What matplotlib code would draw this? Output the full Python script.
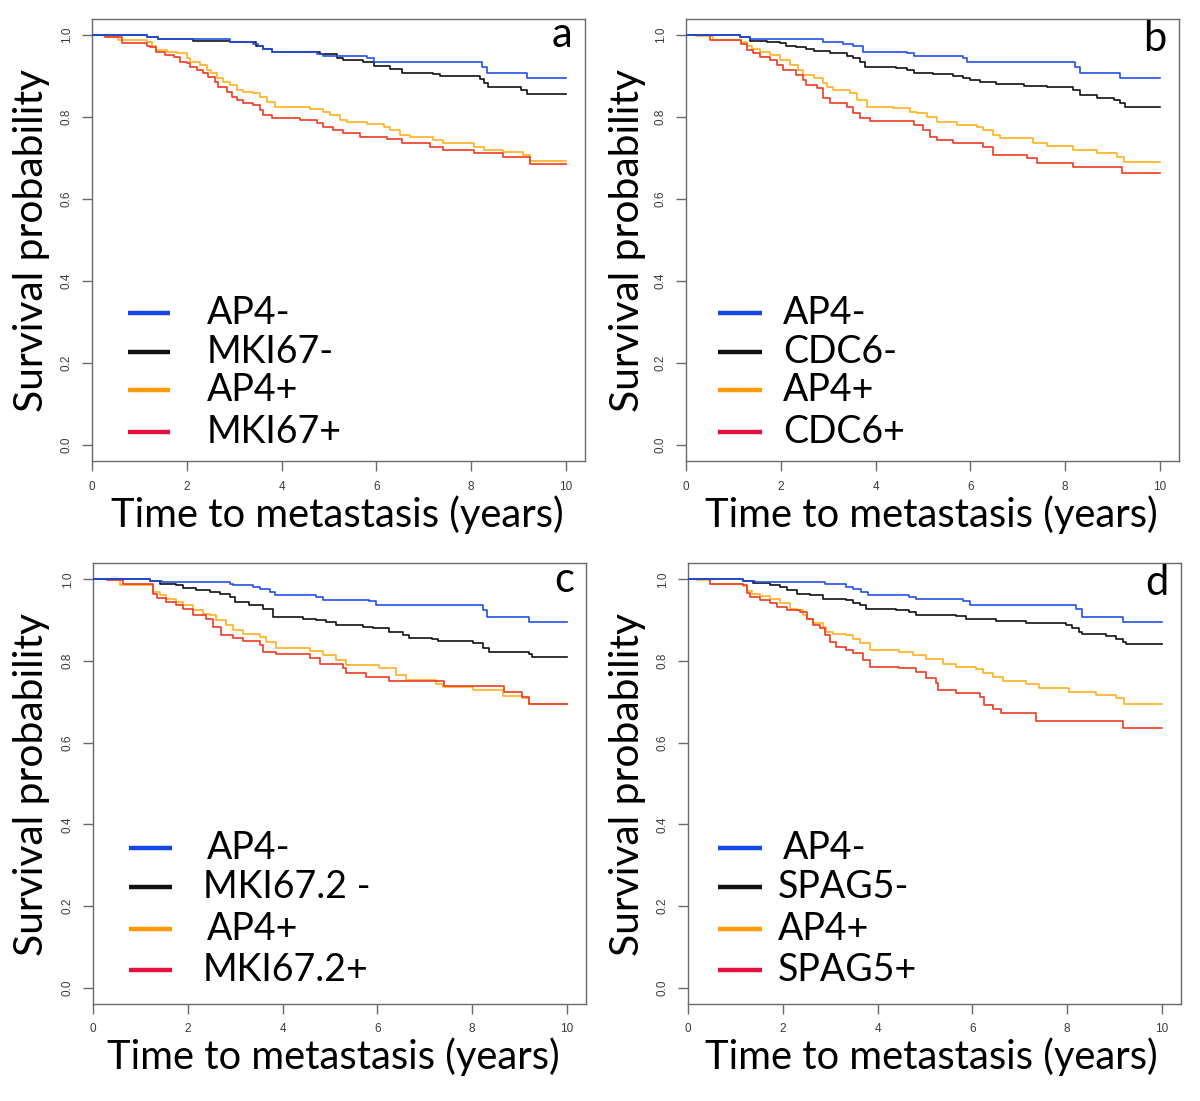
import matplotlib
matplotlib.use("Agg")
import matplotlib.pyplot as plt

# ---------------- data (time in years, survival probability after each step) -------------
# Panel a
A_AP4NEG_T = [1.15, 1.40, 2.91, 3.40, 3.51, 3.61, 3.79, 4.74, 4.88, 5.80, 5.94, 8.22, 8.33, 9.17]
A_AP4NEG_S = [0.996, 0.990, 0.984, 0.978, 0.972, 0.966, 0.958, 0.953, 0.949, 0.945, 0.935, 0.923, 0.908, 0.894]
A_MKINEG_T = [1.15, 1.40, 2.14, 2.91, 3.47, 3.61, 3.79, 4.81, 5.16, 5.30, 5.72, 5.94, 6.29, 6.53, 7.20, 7.34,
              8.19, 8.26, 8.36, 9.06, 9.17]
A_MKINEG_S = [0.996, 0.990, 0.986, 0.984, 0.972, 0.965, 0.958, 0.953, 0.945, 0.939, 0.933, 0.924, 0.916, 0.908,
              0.904, 0.900, 0.892, 0.882, 0.874, 0.866, 0.856]
A_AP4POS_T = [0.27, 0.55, 1.15, 1.26, 1.36, 1.58, 1.79, 2.00, 2.07, 2.28, 2.42, 2.52, 2.63, 2.77, 2.91, 3.05,
              3.19, 3.40, 3.54, 3.69, 3.86, 4.32, 4.60, 4.88, 5.02, 5.23, 5.37, 5.80, 6.15, 6.29, 6.50, 6.71,
              7.20, 7.41, 8.05, 8.26, 8.68, 9.10, 9.24]
A_AP4POS_S = [0.996, 0.988, 0.982, 0.972, 0.963, 0.959, 0.955, 0.943, 0.935, 0.927, 0.915, 0.907, 0.894, 0.886,
              0.878, 0.866, 0.862, 0.858, 0.850, 0.837, 0.825, 0.824, 0.819, 0.813, 0.805, 0.793, 0.789, 0.782,
              0.776, 0.768, 0.756, 0.752, 0.744, 0.736, 0.728, 0.720, 0.715, 0.707, 0.692]
A_MKIPOS_T = [0.27, 0.63, 1.15, 1.22, 1.36, 1.54, 1.72, 1.86, 2.00, 2.07, 2.21, 2.35, 2.45, 2.59, 2.66, 2.84,
              2.95, 3.05, 3.19, 3.40, 3.54, 3.61, 3.79, 4.39, 4.74, 4.88, 5.09, 5.30, 5.65, 6.22, 6.53, 7.13,
              7.41, 8.05, 8.68, 9.24]
A_MKIPOS_S = [0.996, 0.981, 0.974, 0.970, 0.959, 0.951, 0.947, 0.935, 0.931, 0.923, 0.915, 0.907, 0.898, 0.886,
              0.874, 0.862, 0.850, 0.841, 0.833, 0.829, 0.817, 0.805, 0.797, 0.793, 0.785, 0.776, 0.768, 0.760,
              0.752, 0.746, 0.736, 0.728, 0.720, 0.713, 0.703, 0.685]

# Panel b
B_AP4NEG_T = [1.14, 1.35, 2.90, 3.32, 3.53, 3.74, 4.66, 4.80, 5.85, 5.92, 8.21, 8.31, 9.16]
B_AP4NEG_S = [0.996, 0.990, 0.984, 0.978, 0.972, 0.959, 0.955, 0.949, 0.943, 0.935, 0.923, 0.908, 0.894]
B_CDCNEG_T = [1.14, 1.35, 1.70, 1.98, 2.12, 2.33, 2.54, 2.69, 3.04, 3.39, 3.53, 3.67, 3.78, 4.44, 4.66, 4.80,
              5.22, 5.64, 5.85, 5.99, 6.20, 6.55, 7.12, 7.61, 8.17, 8.31, 8.66, 9.02, 9.16, 9.26]
B_CDCNEG_S = [0.994, 0.986, 0.984, 0.980, 0.973, 0.970, 0.967, 0.962, 0.955, 0.949, 0.943, 0.933, 0.923, 0.919,
              0.915, 0.908, 0.905, 0.900, 0.894, 0.890, 0.885, 0.880, 0.876, 0.874, 0.866, 0.854, 0.847, 0.841,
              0.833, 0.825]
B_AP4POS_T = [0.22, 0.58, 1.17, 1.28, 1.39, 1.56, 1.77, 1.98, 2.19, 2.37, 2.47, 2.69, 2.90, 2.97, 3.11, 3.46,
              3.60, 3.81, 4.37, 4.72, 4.87, 5.08, 5.29, 5.71, 6.13, 6.27, 6.48, 6.62, 7.33, 7.61, 8.17, 8.66,
              9.09, 9.23]
B_AP4POS_S = [0.998, 0.989, 0.984, 0.972, 0.965, 0.959, 0.951, 0.939, 0.927, 0.915, 0.902, 0.894, 0.882, 0.874,
              0.866, 0.858, 0.841, 0.825, 0.821, 0.813, 0.809, 0.801, 0.789, 0.780, 0.776, 0.768, 0.756, 0.748,
              0.736, 0.729, 0.720, 0.711, 0.703, 0.691]
B_CDCPOS_T = [0.51, 1.17, 1.28, 1.42, 1.56, 1.77, 1.91, 2.05, 2.33, 2.47, 2.54, 2.76, 2.90, 3.04, 3.39, 3.53,
              3.67, 3.88, 4.80, 5.01, 5.15, 5.29, 5.64, 6.27, 6.48, 7.19, 7.40, 8.17, 9.19]
B_CDCPOS_S = [0.989, 0.978, 0.963, 0.955, 0.947, 0.939, 0.927, 0.915, 0.902, 0.890, 0.878, 0.870, 0.846, 0.833,
              0.825, 0.809, 0.797, 0.791, 0.780, 0.768, 0.752, 0.744, 0.736, 0.728, 0.707, 0.699, 0.687, 0.679,
              0.663]

# Panel c
C_AP4NEG_T = [1.20, 1.45, 2.88, 2.95, 3.38, 3.52, 3.73, 3.83, 4.71, 4.85, 5.83, 5.97, 8.22, 8.32, 9.20]
C_AP4NEG_S = [0.997, 0.993, 0.989, 0.985, 0.981, 0.977, 0.969, 0.961, 0.957, 0.950, 0.946, 0.937, 0.924, 0.908,
              0.896]
C_MKINEG_T = [1.20, 1.41, 1.76, 1.90, 2.18, 2.46, 2.67, 2.88, 2.99, 3.30, 3.59, 3.80, 4.43, 4.71, 4.92, 5.13,
              5.69, 5.90, 6.25, 6.53, 6.67, 7.16, 7.27, 8.01, 8.22, 8.36, 9.20, 9.27]
C_MKINEG_S = [0.995, 0.989, 0.985, 0.979, 0.973, 0.969, 0.963, 0.957, 0.945, 0.938, 0.928, 0.908, 0.904, 0.900,
              0.896, 0.889, 0.884, 0.880, 0.872, 0.863, 0.857, 0.854, 0.849, 0.843, 0.831, 0.821, 0.816, 0.811]
C_AP4POS_T = [0.29, 0.57, 1.27, 1.41, 1.55, 1.76, 1.90, 2.11, 2.32, 2.46, 2.60, 2.81, 2.95, 3.17, 3.52, 3.66,
              3.87, 4.57, 4.85, 5.13, 5.34, 6.04, 6.39, 6.60, 7.24, 7.38, 8.01, 8.64, 9.06, 9.20]
C_AP4POS_S = [0.998, 0.987, 0.969, 0.961, 0.953, 0.945, 0.937, 0.924, 0.916, 0.912, 0.900, 0.888, 0.876, 0.867,
              0.859, 0.847, 0.831, 0.824, 0.815, 0.802, 0.790, 0.782, 0.766, 0.754, 0.743, 0.737, 0.729, 0.715,
              0.709, 0.694]
C_MKIPOS_T = [0.29, 0.64, 1.27, 1.34, 1.55, 1.76, 1.90, 2.11, 2.39, 2.53, 2.71, 2.95, 3.17, 3.52, 3.59, 3.87,
              4.57, 4.78, 5.27, 5.34, 5.76, 6.25, 7.41, 8.67, 9.06, 9.20]
C_MKIPOS_S = [0.998, 0.989, 0.965, 0.955, 0.945, 0.937, 0.928, 0.912, 0.904, 0.884, 0.863, 0.857, 0.849, 0.839,
              0.823, 0.816, 0.808, 0.792, 0.782, 0.770, 0.762, 0.751, 0.740, 0.725, 0.713, 0.694]

# Panel d
D_AP4NEG_T = [1.17, 1.41, 2.89, 3.34, 3.48, 3.66, 3.80, 4.67, 4.81, 5.80, 5.94, 8.18, 8.32, 9.17]
D_AP4NEG_S = [0.996, 0.993, 0.988, 0.981, 0.976, 0.969, 0.961, 0.957, 0.951, 0.946, 0.937, 0.928, 0.908, 0.896]
D_SPGNEG_T = [1.17, 1.38, 1.73, 1.94, 2.08, 2.29, 2.57, 2.85, 3.34, 3.48, 3.62, 3.76, 4.39, 4.67, 4.81, 5.66,
              5.87, 6.50, 7.13, 7.97, 8.11, 8.25, 8.32, 8.81, 9.03, 9.17, 9.24]
D_SPGNEG_S = [0.995, 0.992, 0.987, 0.981, 0.973, 0.965, 0.961, 0.953, 0.949, 0.942, 0.937, 0.927, 0.924, 0.920,
              0.912, 0.911, 0.902, 0.898, 0.894, 0.889, 0.880, 0.872, 0.865, 0.862, 0.855, 0.847, 0.841]
D_AP4POS_T = [0.18, 0.46, 1.17, 1.24, 1.34, 1.52, 1.73, 1.94, 2.15, 2.29, 2.43, 2.50, 2.64, 2.85, 2.92, 3.06,
              3.34, 3.48, 3.62, 3.83, 4.46, 4.74, 5.03, 5.38, 5.66, 6.08, 6.22, 6.43, 6.64, 7.13, 7.41, 8.04,
              8.60, 9.03, 9.20]
D_AP4POS_S = [0.998, 0.989, 0.984, 0.971, 0.965, 0.959, 0.953, 0.941, 0.928, 0.924, 0.912, 0.904, 0.892, 0.884,
              0.872, 0.867, 0.863, 0.855, 0.843, 0.827, 0.821, 0.815, 0.804, 0.792, 0.786, 0.780, 0.770, 0.762,
              0.751, 0.743, 0.735, 0.725, 0.717, 0.709, 0.694]
D_SPGPOS_T = [0.46, 1.17, 1.24, 1.31, 1.52, 1.73, 1.87, 2.08, 2.36, 2.50, 2.64, 2.78, 2.89, 2.99, 3.13, 3.34,
              3.48, 3.69, 3.83, 4.46, 4.81, 5.03, 5.24, 5.27, 5.66, 6.15, 6.25, 6.43, 6.60, 7.34, 9.17]
D_SPGPOS_S = [0.989, 0.985, 0.967, 0.957, 0.949, 0.941, 0.933, 0.924, 0.920, 0.904, 0.888, 0.880, 0.863, 0.847,
              0.835, 0.827, 0.819, 0.802, 0.786, 0.782, 0.774, 0.758, 0.746, 0.729, 0.721, 0.713, 0.693, 0.683,
              0.672, 0.652, 0.636]

LEGEND_A = ["AP4-", "MKI67-", "AP4+", "MKI67+"]
LEGEND_B = ["AP4-", "CDC6-", "AP4+", "CDC6+"]
LEGEND_C = ["AP4-", "MKI67.2 -", "AP4+", "MKI67.2+"]
LEGEND_D = ["AP4-", "SPAG5-", "AP4+", "SPAG5+"]
PANEL_LETTERS = ["a", "b", "c", "d"]
X_TICKS = [0, 2, 4, 6, 8, 10]
Y_TICKS = [0.0, 0.2, 0.4, 0.6, 0.8, 1.0]
X_END = 10.0

# ---------------- style ----------------
CURVE_COLORS = ["#2350e6", "#111111", "#ffb21e", "#f03a24"]
CURVE_Z = [4, 3, 2, 2.5]
LEGEND_COLORS = ["#1246e8", "#111111", "#ff9a00", "#e5103c"]
LABEL_FONT = ["Lato", "DejaVu Sans"]
TICK_FONT = ["Liberation Sans", "DejaVu Sans"]
FRAME = "#6a6a6a"

W, H = 1200, 1101
fig = plt.figure(figsize=(W / 100, H / 100), dpi=100)

# axes rectangles in pixels: left, right, top, bottom
RECTS = [(92, 585, 18.6, 461.4), (686, 1179, 18.6, 461.4),
         (93, 586, 563, 1004), (688, 1181, 563, 1004)]

panels = [
    ([(A_AP4NEG_T, A_AP4NEG_S), (A_MKINEG_T, A_MKINEG_S), (A_AP4POS_T, A_AP4POS_S), (A_MKIPOS_T, A_MKIPOS_S)], LEGEND_A),
    ([(B_AP4NEG_T, B_AP4NEG_S), (B_CDCNEG_T, B_CDCNEG_S), (B_AP4POS_T, B_AP4POS_S), (B_CDCPOS_T, B_CDCPOS_S)], LEGEND_B),
    ([(C_AP4NEG_T, C_AP4NEG_S), (C_MKINEG_T, C_MKINEG_S), (C_AP4POS_T, C_AP4POS_S), (C_MKIPOS_T, C_MKIPOS_S)], LEGEND_C),
    ([(D_AP4NEG_T, D_AP4NEG_S), (D_SPGNEG_T, D_SPGNEG_S), (D_AP4POS_T, D_AP4POS_S), (D_SPGPOS_T, D_SPGPOS_S)], LEGEND_D),
]

# legend layout per panel (axes fraction): line x0, x1, text x list, row y list
LEG_LAYOUT = [
    (0.073, 0.158, [0.233, 0.233, 0.233, 0.233], [0.335, 0.247, 0.161, 0.066]),
    (0.065, 0.154, [0.197, 0.197, 0.197, 0.197], [0.335, 0.247, 0.161, 0.066]),
    (0.073, 0.160, [0.231, 0.223, 0.231, 0.223], [0.354, 0.265, 0.170, 0.077]),
    (0.061, 0.150, [0.193, 0.183, 0.183, 0.183], [0.354, 0.265, 0.170, 0.077]),
]
LETTER_POS = [(0.975, 0.962), (0.975, 0.955), (0.975, 0.962), (0.975, 0.955)]

for i, ((curves, labels), (l, r, t, b)) in enumerate(zip(panels, RECTS)):
    ax = fig.add_axes([l / W, 1 - b / H, (r - l) / W, (b - t) / H])
    for (tt, ss), col, z in zip(curves, CURVE_COLORS, CURVE_Z):
        xs = [0.0] + list(tt) + [X_END]
        ys = [1.0] + list(ss) + [ss[-1]]
        ax.step(xs, ys, where="post", color=col, lw=1.2, zorder=z)
    ax.set_xlim(0, 10.4)
    ax.set_ylim(-0.04, 1.04)
    ax.set_xticks(X_TICKS)
    ax.set_xticklabels([str(v) for v in X_TICKS])
    ax.set_yticks(Y_TICKS)
    ax.set_yticklabels([f"{v:.1f}" for v in Y_TICKS], rotation=90, va="center")
    ax.tick_params(axis="both", direction="out", length=7, width=1, color=FRAME,
                   labelsize=8.5, labelcolor="#3a3a3a", pad=7)
    for lab in ax.get_xticklabels() + ax.get_yticklabels():
        lab.set_fontfamily(TICK_FONT)
    for sp in ax.spines.values():
        sp.set_color(FRAME)
        sp.set_linewidth(1.0)
    # legend
    x0, x1, txs, rows = LEG_LAYOUT[i]
    for lab, col, tx, ry in zip(labels, LEGEND_COLORS, txs, rows):
        ax.plot([x0, x1], [ry, ry], transform=ax.transAxes, color=col, lw=3.2, solid_capstyle="butt")
        ax.text(tx, ry, lab, transform=ax.transAxes, fontsize=27, family=LABEL_FONT,
                va="center", ha="left", color="black")
    lx, ly = LETTER_POS[i]
    ax.text(lx, ly, PANEL_LETTERS[i], transform=ax.transAxes, fontsize=30, family=LABEL_FONT,
            ha="right", va="center", color="black")

# axis titles
XLAB_POS = [(337, 515), (931, 515), (333, 1057), (931, 1057)]
YLAB_POS = [(32, 240), (628, 240), (32, 785), (628, 785)]
for (xp, yp) in XLAB_POS:
    fig.text(xp / W, 1 - yp / H, "Time to metastasis (years)", fontsize=28.7, family=LABEL_FONT,
             ha="center", va="center")
for (xp, yp) in YLAB_POS:
    fig.text(xp / W, 1 - yp / H, "Survival probability", fontsize=29.3, family=LABEL_FONT,
             ha="center", va="center", rotation=90)

fig.savefig("out.png", dpi=100, facecolor="white")
